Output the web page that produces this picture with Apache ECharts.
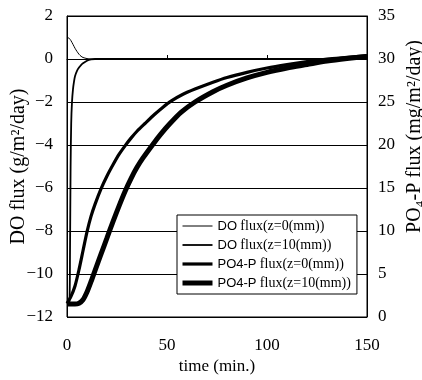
<!DOCTYPE html>
<html>
<head>
<meta charset="utf-8">
<script src="https://cdn.jsdelivr.net/npm/echarts@6/dist/echarts.min.js"></script>
<style>
    html, body { margin: 0; padding: 0; background: #fff; }
    #chart { width: 422px; height: 380px; }
</style>
</head>
<body>
<div id="chart"></div>
<script>
// time axis (min.)
const xTicks = [0, 50, 100, 150];

// DO flux, left axis (g/m2/day)
const doZ0Time = [0, 1, 2, 3, 4, 5, 6, 7, 8, 10, 12, 150];
const doZ0Flux = [1.0, 0.97, 0.85, 0.68, 0.5, 0.35, 0.22, 0.13, 0.07, 0.02, 0, 0];

const doZ10Time = [0, 1.2, 1.5, 1.8, 2.1, 2.5, 3, 3.5, 4, 5, 6, 7, 8, 10, 12, 14, 150];
const doZ10Flux = [-11.4, -11.3, -9, -5, -3, -2, -1.4, -1.05, -0.8, -0.55, -0.4, -0.28, -0.2, -0.08, -0.02, 0, 0];

// PO4-P flux, right axis (mg/m2/day)
const poZ0Time = [0, 2, 4, 6, 8, 10, 12, 14, 17, 20, 23, 26, 29, 32, 35, 39, 44, 48, 52, 58, 64, 73, 80, 90, 100, 110, 120, 130, 140, 150];
const poZ0Flux = [1.6, 2.4, 3.6, 5.5, 7.7, 9.9, 11.7, 13.1, 14.9, 16.4, 17.7, 18.9, 19.9, 20.8, 21.6, 22.5, 23.6, 24.4, 25.1, 25.9, 26.5, 27.3, 27.85, 28.45, 28.95, 29.35, 29.7, 30.0, 30.2, 30.4];

const poZ10Time = [0, 4, 6, 8, 10, 12, 14, 17, 20, 23, 26, 29, 32, 35, 38, 43, 47, 51.5, 57, 64, 73, 80, 90, 100, 110, 120, 130, 140, 150];
const poZ10Flux = [1.5, 1.5, 1.6, 2.0, 2.9, 4.1, 5.4, 7.3, 9.2, 11.1, 12.9, 14.6, 16.1, 17.4, 18.5, 20.1, 21.3, 22.5, 23.8, 25.0, 26.2, 26.95, 27.8, 28.45, 28.95, 29.35, 29.75, 30.05, 30.3];

const seriesNames = [
    "DO flux(z=0(mm))",
    "DO flux(z=10(mm))",
    "PO4-P flux(z=0(mm))",
    "PO4-P flux(z=10(mm))",
];

const pairs = (xs, ys) => xs.map((x, i) => [x, ys[i]]);

const serif = "Liberation Serif";
const chart = echarts.init(document.getElementById("chart"));

function lineSeries(name, data, axis, width) {
    return {
        name: name,
        type: "line",
        yAxisIndex: axis,
        data: data,
        symbol: "none",
        smooth: 0.25,
        lineStyle: { color: "#000", width: width },
        // hides the dot in the legend icon
        itemStyle: { color: "#000", opacity: 0 },
    };
}

chart.setOption({
    animation: false,
    grid: {
        left: 67, right: 55, top: 16, bottom: 63,
        outerBoundsMode: "none",
        show: true, borderColor: "#000", borderWidth: 1,
    },
    legend: {
        orient: "vertical",
        left: 177,
        top: 215,
        itemWidth: 30,
        itemHeight: 10,
        itemGap: 5,
        padding: [4, 6, 4, 3],
        backgroundColor: "#fff",
        borderColor: "#000",
        borderWidth: 1,
        borderRadius: 0,
        data: seriesNames,
        lineStyle: { width: "inherit" },
        formatter: (name) => {
            const i = name.indexOf(" ");
            return "{s|" + name.slice(0, i) + "} {r|" + name.slice(i + 1) + "}";
        },
        textStyle: {
            color: "#000",
            rich: {
                s: { fontFamily: "Liberation Sans", fontSize: 13, color: "#000" },
                r: { fontFamily: serif, fontSize: 14, color: "#000" },
            },
        },
    },
    xAxis: {
        type: "value",
        min: 0, max: 150, interval: 50,
        name: "time (min.)",
        nameLocation: "middle",
        nameGap: 41,
        nameMoveOverlap: false,
        nameTextStyle: { fontFamily: serif, fontSize: 17, color: "#000" },
        axisLine: { lineStyle: { color: "#000", width: 1 } },
        axisTick: { inside: true, length: 4, lineStyle: { color: "#000" } },
        axisLabel: {
            fontFamily: serif, fontSize: 17, color: "#000", margin: 20,
            formatter: (v) => (xTicks.includes(v) ? String(v) : ""),
        },
        splitLine: { show: false },
    },
    yAxis: [
        {
            type: "value",
            position: "left",
            min: -12, max: 2, interval: 2,
            name: "DO flux (g/m\u00b2/day)",
            nameLocation: "middle",
            nameRotate: 90,
            nameGap: 38,
            nameMoveOverlap: false,
            nameTextStyle: { fontFamily: serif, fontSize: 20, color: "#000" },
            axisLine: { show: true, lineStyle: { color: "#000", width: 1 } },
            axisTick: { show: true, inside: true, length: 4, lineStyle: { color: "#000" } },
            axisLabel: {
                fontFamily: serif, fontSize: 17, color: "#000", margin: 14,
                formatter: (v) => String(v).replace("-", "\u2212"),
            },
            splitLine: { show: true, lineStyle: { color: "#000", width: 1 } },
        },
        {
            type: "value",
            position: "right",
            min: 0, max: 35, interval: 5,
            name: "PO\u2084-P flux (mg/m\u00b2/day)",
            nameLocation: "middle",
            nameRotate: 90,
            nameGap: 38,
            nameMoveOverlap: false,
            nameTextStyle: {
                fontFamily: serif, fontSize: 20, color: "#000",
                padding: [0, 0, 0, 60],
            },
            axisLine: { show: true, lineStyle: { color: "#000", width: 1 } },
            axisTick: { show: true, inside: true, length: 4, lineStyle: { color: "#000" } },
            axisLabel: { fontFamily: serif, fontSize: 17, color: "#000", margin: 11 },
            splitLine: { show: false },
        },
    ],
    series: [
        lineSeries(seriesNames[0], pairs(doZ0Time, doZ0Flux), 0, 1),
        lineSeries(seriesNames[1], pairs(doZ10Time, doZ10Flux), 0, 1.8),
        lineSeries(seriesNames[2], pairs(poZ0Time, poZ0Flux), 1, 3.2),
        lineSeries(seriesNames[3], pairs(poZ10Time, poZ10Flux), 1, 5),
    ],
});
</script>
</body>
</html>
